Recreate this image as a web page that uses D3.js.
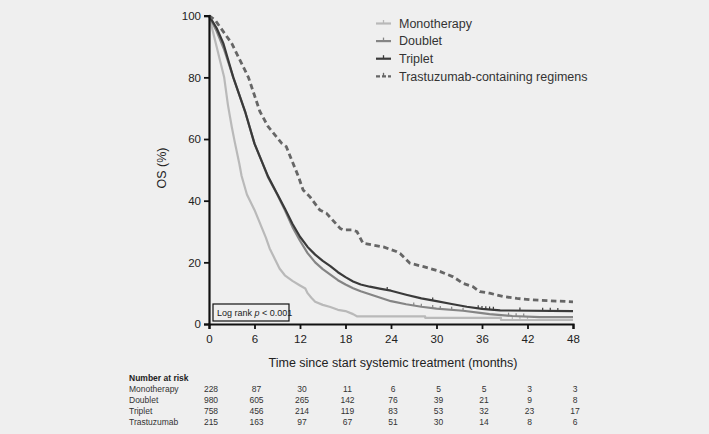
<!DOCTYPE html>
<html><head><meta charset="utf-8">
<script src="https://cdn.jsdelivr.net/npm/d3@7"></script>
<style>
html,body{margin:0;padding:0;background:#efefef;}
svg{display:block;font-family:"Liberation Sans",Arial,Helvetica,sans-serif;}
</style></head><body>
<svg id="chart" width="709" height="434"></svg>
<script>
// ---- data ----
const seriesNames = ["Monotherapy", "Doublet", "Triplet", "Trastuzumab-containing regimens"];
const riskNames = ["Monotherapy", "Doublet", "Triplet", "Trastuzumab"];

const monoT = [0,0.5,1,1.5,2,2.5,3,3.4,4,4.3,5,6,6.5,7,7.5,8,8.7,9.3,10,11,12,12.7,13,13.5,14,15,16,17,18,19,19.5,28.5,28.5,38.5,38.5,48];
const monoS = [100,95,90,85,80,71,64,59,52,48,42,37,34,31,28,24.5,21,18,15.8,14,12.5,11.5,10,8.5,7.2,6.2,5.5,4.6,4.2,3.2,2.5,2.5,2,2,1.3,1.3];

const doubT = [0,1,2,3.2,4.75,6,7,7.8,9,10,11,12,13,14,15,16,17,18,19,20,22,24,26,28,30,33.5,36,37,40,43.6,48];
const doubS = [100,95,89,80,69,58.5,52.5,47.5,42,37,31.5,27,23,20,17.8,16,14.2,12.8,11.6,10.6,9,7.4,6.4,5.6,5,4.3,3.5,3.2,2.6,2.2,2.2];

const tripT = [0,1,1.9,3.2,4.75,6,7,7.8,9,10,11,12,13,14,15,16,17,18,19,20,21.2,22.5,24,26,28,30,32,34,36,38.4,48];
const tripS = [100,96,91,80,69,58.5,52.5,47.8,42.2,37.5,32.5,28.3,25,22.5,20.5,18.8,16.8,15.2,13.8,12.8,12.1,11.5,10.8,9.5,8.3,7.4,6.5,5.6,4.9,4.4,4.2];

const trasT = [0,0.8,3,5.2,6.7,7.8,9.6,10.2,10.9,11.8,12.4,13.3,14.6,15.5,17.3,17.7,18.8,19.5,20.3,20.8,23,24.7,25.2,26.5,28.3,30.5,32.2,33.5,34.8,35.7,37,38.8,40.6,42.7,48];
const trasS = [100,98.6,91,80,69,64,58.6,57.5,53.2,47.8,43.5,41.3,37,35.9,31,30.5,30.5,30,26.2,26,25,23.5,22.9,19.7,18.6,17,15.3,13.2,12.1,10.5,10,8.9,8.3,7.8,7.2];

const monoCensor = [40, 41, 42];
const doubCensor = [27, 28, 29.5, 30.5, 32, 33.5, 39.5, 40.5, 41.5];
const tripCensor = [23.5, 29.5, 35.5, 36, 36.5, 37, 37.5, 41, 44, 45, 46];
const trasCensor = [];

const xTicks = [0, 6, 12, 18, 24, 30, 36, 42, 48];
const yTicks = [0, 20, 40, 60, 80, 100];

const riskMono = [228, 87, 30, 11, 6, 5, 5, 3, 3];
const riskDoub = [980, 605, 265, 142, 76, 39, 21, 9, 8];
const riskTrip = [758, 456, 214, 119, 83, 53, 32, 23, 17];
const riskTras = [215, 163, 97, 67, 51, 30, 14, 8, 6];

// ---- drawing ----
const svg = d3.select("#chart");
const x = d3.scaleLinear().domain([0, 48]).range([209, 573]);
const y = d3.scaleLinear().domain([0, 100]).range([324, 15.7]);

const styles = [
  {color: "#b9b9b9", width: 2.2, dash: null},
  {color: "#858585", width: 2.2, dash: null},
  {color: "#3a3a3a", width: 2.2, dash: null},
  {color: "#666666", width: 2.8, dash: "5.5,3.5"}
];
const series = [
  {t: monoT, s: monoS, c: monoCensor},
  {t: doubT, s: doubS, c: doubCensor},
  {t: tripT, s: tripS, c: tripCensor},
  {t: trasT, s: trasS, c: trasCensor}
];

function interp(t, ts, ss) {
  for (let i = ts.length - 1; i >= 0; i--) {
    if (ts[i] <= t) {
      if (i === ts.length - 1) return ss[i];
      const f = (t - ts[i]) / ((ts[i + 1] - ts[i]) || 1);
      return ss[i] + f * (ss[i + 1] - ss[i]);
    }
  }
  return ss[0];
}

const line = d3.line().x(d => x(d[0])).y(d => y(d[1]));
series.forEach((sr, i) => {
  const pts = sr.t.map((t, k) => [t, sr.s[k]]);
  svg.append("path").attr("d", line(pts))
    .attr("fill", "none").attr("stroke", styles[i].color)
    .attr("stroke-width", styles[i].width)
    .attr("stroke-dasharray", styles[i].dash)
    .attr("stroke-linejoin", "round");
  svg.append("g").selectAll("line").data(sr.c).join("line")
    .attr("x1", d => x(d)).attr("x2", d => x(d))
    .attr("y1", d => y(interp(d, sr.t, sr.s)) - 3)
    .attr("y2", d => y(interp(d, sr.t, sr.s)))
    .attr("stroke", styles[i].color).attr("stroke-width", 1.2);
});

// axes
const xAxis = svg.append("g").attr("transform", "translate(0,324)")
  .call(d3.axisBottom(x).tickValues(xTicks).tickSize(5).tickPadding(6));
const yAxis = svg.append("g").attr("transform", "translate(209,0)")
  .call(d3.axisLeft(y).tickValues(yTicks).tickSize(5).tickPadding(3));
[xAxis, yAxis].forEach(g => {
  g.select(".domain").attr("stroke", "#111").attr("stroke-width", 2.2);
  g.selectAll(".tick line").attr("stroke", "#111").attr("stroke-width", 1.8);
  g.selectAll(".tick text").attr("fill", "#222").attr("font-size", 11.5)
    .attr("font-family", "Liberation Sans, Arial, sans-serif");
});

// axis titles
svg.append("text").attr("x", 393).attr("y", 367).attr("text-anchor", "middle")
  .attr("font-size", 12.5).attr("fill", "#222")
  .text("Time since start systemic treatment (months)");
svg.append("text").attr("transform", "translate(166,168) rotate(-90)")
  .attr("text-anchor", "middle").attr("font-size", 12.5).attr("fill", "#222")
  .text("OS (%)");

// log rank box
svg.append("rect").attr("x", 213).attr("y", 304).attr("width", 76).attr("height", 17)
  .attr("fill", "none").attr("stroke", "#111").attr("stroke-width", 1.2);
const lr = svg.append("text").attr("x", 217).attr("y", 316).attr("font-size", 9).attr("fill", "#222");
lr.append("tspan").text("Log rank ");
lr.append("tspan").attr("font-style", "italic").text("p");
lr.append("tspan").text(" < 0.001");

// legend
const lg = svg.append("g");
seriesNames.forEach((n, i) => {
  const ly = 23.5 + i * 17.6;
  lg.append("line").attr("x1", 376).attr("x2", 391).attr("y1", ly).attr("y2", ly)
    .attr("stroke", styles[i].color).attr("stroke-width", 2.2)
    .attr("stroke-dasharray", styles[i].dash ? "4,2" : null);
  lg.append("line").attr("x1", 383.5).attr("x2", 383.5).attr("y1", ly - 3.5).attr("y2", ly)
    .attr("stroke", styles[i].color).attr("stroke-width", 1.3);
  lg.append("text").attr("x", 399).attr("y", ly + 4.3).attr("font-size", 12.5)
    .attr("fill", "#333").text(n);
});

// risk table
svg.append("text").attr("x", 129).attr("y", 381).attr("font-size", 8.5)
  .attr("font-weight", "bold").attr("fill", "#222").text("Number at risk");
const riskRows = [riskMono, riskDoub, riskTrip, riskTras];
riskRows.forEach((row, r) => {
  const ry = 391.5 + r * 11;
  svg.append("text").attr("x", 129).attr("y", ry).attr("font-size", 8.5)
    .attr("fill", "#333").text(riskNames[r]);
  svg.append("g").selectAll("text").data(row).join("text")
    .attr("x", (d, k) => x(xTicks[k]) + 2).attr("y", ry)
    .attr("text-anchor", "middle").attr("font-size", 8.5).attr("fill", "#333")
    .text(d => d);
});
</script>
</body></html>
